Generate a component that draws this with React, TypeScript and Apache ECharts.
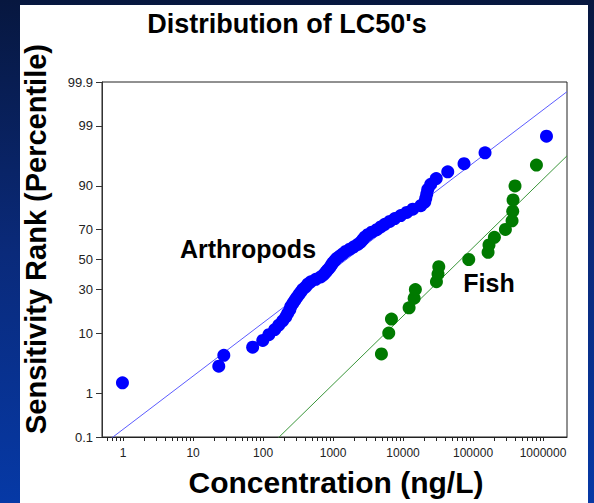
import { useEffect, useRef } from "react";
import * as echarts from "echarts";

// ---- Data ----
// Arthropod LC50 concentrations (ng/L), sorted, and their sensitivity-rank percentiles
const arthropodConc = [
  0.98, 23.3, 27.5, 71, 99, 121, 147, 168, 191, 211,
  225, 241, 249, 266, 284, 303, 324, 346, 369, 407,
  435, 480, 566, 667, 736, 787, 840, 898, 943, 990,
  1058, 1130, 1248, 1377, 1519, 1733, 1977, 2255, 2489, 2657,
  2838, 3131, 3572, 4210, 4801, 5477, 6457, 7612, 9268, 11290,
  13760, 17920, 20430, 21110, 21820, 22540, 24880, 29810, 43530, 74340,
  148400, 1120000,
];
const arthropodPct = [
  1.59, 3.17, 4.76, 6.35, 7.94, 9.52, 11.11, 12.7, 14.29, 15.87,
  17.46, 19.05, 20.63, 22.22, 23.81, 25.4, 26.98, 28.57, 30.16, 31.75,
  33.33, 34.92, 36.51, 38.1, 39.68, 41.27, 42.86, 44.44, 46.03, 47.62,
  49.21, 50.79, 52.38, 53.97, 55.56, 57.14, 58.73, 60.32, 61.9, 63.49,
  65.08, 66.67, 68.25, 69.84, 71.43, 73.02, 74.6, 76.19, 77.78, 79.37,
  80.95, 82.54, 84.13, 85.71, 87.3, 88.89, 90.48, 92.06, 93.65, 95.24,
  96.83, 98.41,
];
// Fish LC50 concentrations (ng/L) and percentiles
const fishConc = [
  4910, 6250, 6830, 12200, 14400, 15000, 30000, 31600, 32400, 86800,
  164000, 169000, 202000, 290000, 361000, 369000, 373000, 398000, 805000,
];
const fishPct = [5, 10, 15, 20, 25, 30, 35, 40, 45, 50, 55, 60, 65, 70, 75, 80, 85, 90, 95];

// Fitted log-normal distributions (log10 mean and sd)
const arthropodFit = { meanLog10: 3.19, sdLog10: 1.079 };
const fishFit = { meanLog10: 4.826, sdLog10: 0.84 };

// Axis ticks
const yTickPercentiles = [0.1, 1, 10, 30, 50, 70, 90, 99, 99.9];
const yTickLabels = ["0.1", "1", "10", "30", "50", "70", "90", "99", "99.9"];
const xMajorValues = [1, 10, 100, 1000, 10000, 100000, 1000000];
const xTickLabels = ["1", "10", "100", "1000", "10000", "100000", "1000000"];
const xAxisMin = 0.5;
const xAxisMax = 2.2e6;
const yAxisMinPct = 0.1;
const yAxisMaxPct = 99.9;

// Inverse standard normal CDF (Acklam)
function probit(p: number): number {
  const a = [-3.969683028665376e1, 2.209460984245205e2, -2.759285104469687e2, 1.38357751867269e2, -3.066479806614716e1, 2.506628277459239];
  const b = [-5.447609879822406e1, 1.615858368580409e2, -1.556989798598866e2, 6.680131188771972e1, -1.328068155288572e1];
  const c = [-7.784894002430293e-3, -3.223964580411365e-1, -2.400758277161838, -2.549732539343734, 4.374664141464968, 2.938163982698783];
  const d = [7.784695709041462e-3, 3.224671290700398e-1, 2.445134137142996, 3.754408661907416];
  const pl = 0.02425;
  if (p < pl) {
    const q = Math.sqrt(-2 * Math.log(p));
    return (((((c[0] * q + c[1]) * q + c[2]) * q + c[3]) * q + c[4]) * q + c[5]) / ((((d[0] * q + d[1]) * q + d[2]) * q + d[3]) * q + 1);
  }
  if (p > 1 - pl) {
    const q = Math.sqrt(-2 * Math.log(1 - p));
    return -(((((c[0] * q + c[1]) * q + c[2]) * q + c[3]) * q + c[4]) * q + c[5]) / ((((d[0] * q + d[1]) * q + d[2]) * q + d[3]) * q + 1);
  }
  const q = p - 0.5;
  const r = q * q;
  return ((((((a[0] * r + a[1]) * r + a[2]) * r + a[3]) * r + a[4]) * r + a[5]) * q) / (((((b[0] * r + b[1]) * r + b[2]) * r + b[3]) * r + b[4]) * r + 1);
}

const zOf = (pct: number) => probit(pct / 100);

export default function App() {
  const ref = useRef<HTMLDivElement>(null);

  useEffect(() => {
    if (!ref.current) return;
    const chart = echarts.init(ref.current, undefined, { renderer: "svg" });

    const xMin = Math.log10(xAxisMin);
    const xMax = Math.log10(xAxisMax);
    const yMin = zOf(yAxisMinPct);
    const yMax = zOf(yAxisMaxPct);

    const yTickZ = yTickPercentiles.map(zOf);
    const xMajorLog = xMajorValues.map((v) => Math.log10(v));
    const xMinorLog: number[] = [];
    for (let e = -1; e <= 6; e++) {
      for (let k = 1; k <= 9; k++) {
        const v = k * Math.pow(10, e);
        if (v > xAxisMin * 1.05 && v <= 1000000 * 1.0001) xMinorLog.push(Math.log10(v));
      }
    }

    const scatterData = (conc: number[], pct: number[]) =>
      conc.map((c, i) => [Math.log10(c), zOf(pct[i])]);
    const fitLine = (fit: { meanLog10: number; sdLog10: number }) =>
      [xMin, xMax].map((lx) => [lx, (lx - fit.meanLog10) / fit.sdLog10]);

    const font = "'Liberation Sans', Arial, Helvetica, sans-serif";

    chart.setOption({
      animation: false,
      backgroundColor: "transparent",
      grid: {
        left: 102,
        top: 82,
        right: 27,
        bottom: 66,
        show: true,
        borderColor: "#222",
        borderWidth: 1,
        backgroundColor: "transparent",
      },
      xAxis: {
        type: "value",
        min: xMin,
        max: xMax,
        splitLine: { show: false },
        axisLine: { show: true, onZero: false, lineStyle: { color: "#222", width: 1 } },
        axisTick: {
          show: true,
          inside: false,
          length: 4,
          customValues: xMinorLog,
          lineStyle: { color: "#222", width: 1 },
        },
        axisLabel: {
          customValues: xMajorLog,
          margin: 10,
          fontFamily: font,
          fontSize: 12,
          color: "#222",
          formatter: (v: number) => {
            const i = xMajorLog.findIndex((m) => Math.abs(m - v) < 1e-6);
            return i >= 0 ? xTickLabels[i] : "";
          },
        },
      },
      yAxis: {
        type: "value",
        min: yMin,
        max: yMax,
        splitLine: { show: false },
        axisLine: { show: true, onZero: false, lineStyle: { color: "#333", width: 1 } },
        axisTick: {
          show: true,
          inside: false,
          length: 6,
          customValues: yTickZ,
          lineStyle: { color: "#333", width: 1 },
        },
        axisLabel: {
          customValues: yTickZ,
          margin: 9,
          fontFamily: font,
          fontSize: 13,
          color: "#222",
          formatter: (v: number) => {
            const i = yTickZ.findIndex((m) => Math.abs(m - v) < 1e-6);
            return i >= 0 ? yTickLabels[i] : "";
          },
        },
      },
      series: [
        {
          name: "Arthropods fit",
          type: "line",
          data: fitLine(arthropodFit),
          symbol: "none",
          clip: true,
          silent: true,
          lineStyle: { color: "#5c5cff", width: 1 },
          z: 1,
        },
        {
          name: "Fish fit",
          type: "line",
          data: fitLine(fishFit),
          symbol: "none",
          clip: true,
          silent: true,
          lineStyle: { color: "#3a963a", width: 1 },
          z: 1,
        },
        {
          name: "Arthropods",
          type: "scatter",
          data: scatterData(arthropodConc, arthropodPct),
          symbol: "circle",
          symbolSize: 13,
          itemStyle: { color: "#0000ff", opacity: 1 },
          z: 3,
        },
        {
          name: "Fish",
          type: "scatter",
          data: scatterData(fishConc, fishPct),
          symbol: "circle",
          symbolSize: 13,
          itemStyle: { color: "#007a00", opacity: 1 },
          z: 3,
        },
      ],
      graphic: [
        {
          type: "text",
          x: 287,
          y: 24,
          style: {
            text: "Distribution of LC50's",
            font: `bold 27px ${font}`,
            fill: "#000",
            align: "center",
            verticalAlign: "middle",
          },
        },
        {
          type: "text",
          x: 248,
          y: 248.5,
          style: {
            text: "Arthropods",
            font: `bold 25px ${font}`,
            fill: "#000",
            align: "center",
            verticalAlign: "middle",
          },
        },
        {
          type: "text",
          x: 489,
          y: 283,
          style: {
            text: "Fish",
            font: `bold 25px ${font}`,
            fill: "#000",
            align: "center",
            verticalAlign: "middle",
          },
        },
        {
          type: "text",
          x: 336,
          y: 482,
          style: {
            text: "Concentration (ng/L)",
            font: `bold 30px ${font}`,
            fill: "#000",
            align: "center",
            verticalAlign: "middle",
          },
        },
        {
          type: "text",
          x: 36,
          y: 239,
          rotation: Math.PI / 2,
          style: {
            text: "Sensitivity Rank (Percentile)",
            font: `bold 29px ${font}`,
            fill: "#000",
            align: "center",
            verticalAlign: "middle",
          },
        },
      ],
    });

    return () => chart.dispose();
  }, []);

  return (
    <div
      style={{
        position: "fixed",
        left: 0,
        top: 0,
        width: 594,
        height: 503,
        background: "linear-gradient(180deg, #07173f 0%, #0a2a7a 50%, #0639a6 100%)",
        overflow: "hidden",
      }}
    >
      <div
        style={{
          position: "absolute",
          left: 20,
          top: 5,
          width: 568,
          height: 498,
          background: "#ffffff",
        }}
      />
      <div ref={ref} style={{ position: "absolute", left: 0, top: 0, width: 594, height: 503 }} />
    </div>
  );
}
